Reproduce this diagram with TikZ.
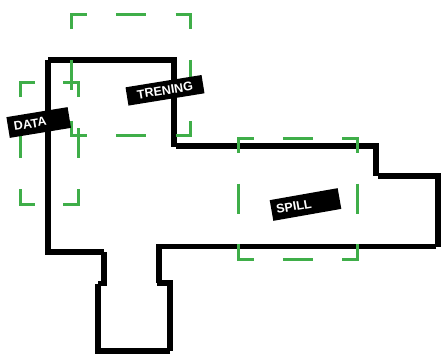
\documentclass[tikz,border=0pt]{standalone}
\usepackage{fontspec}
\setmainfont{Liberation Sans}
\definecolor{zonegreen}{HTML}{3FAE49}
\tikzset{
  wall/.style={draw=black,line width=5.8pt,line cap=square},
  zone/.style={draw=zonegreen,line width=3pt,line cap=butt},
  tag/.style={fill=black,text=white,inner sep=0pt,font=\bfseries\fontsize{12.5}{13}\selectfont,anchor=center},
}
\newcommand{\zonecorners}[4]{%
  \path[zone] ({#1},{#2+15}) -- ({#1},{#2}) -- ({#1+15},{#2});
  \path[zone] ({#3-15},{#2}) -- ({#3},{#2}) -- ({#3},{#2+15});
  \path[zone] ({#1},{#4-15}) -- ({#1},{#4}) -- ({#1+15},{#4});
  \path[zone] ({#3-15},{#4}) -- ({#3},{#4}) -- ({#3},{#4-15});
  \path[zone] ({#1},{(#2+#4)/2-15}) -- ({#1},{(#2+#4)/2+15});
  \path[zone] ({#3},{(#2+#4)/2-15}) -- ({#3},{(#2+#4)/2+15});
}
\newcommand{\zonemids}[4]{%
  \path[zone] ({(#1+#3)/2-15},{#2}) -- ({(#1+#3)/2+15},{#2});
  \path[zone] ({(#1+#3)/2-15},{#4}) -- ({(#1+#3)/2+15},{#4});
}
\begin{document}
\begin{tikzpicture}[x=1pt,y=-1pt]
\useasboundingbox (0,0) rectangle (443,360);
% outline
\path[wall] (48,60) -- (174,60) -- (174,146.5);
\path[wall] (176,146) -- (376,146) -- (376,176);
\path[wall] (378,176) -- (438,176) -- (438,247);
\path[wall] (436,246.5) -- (159,246.5) -- (159,283);
\path[wall] (157,283) -- (170,283) -- (170,351);
\path[wall] (170,351) -- (98,351) -- (98,284);
\path[wall] (98,283.5) -- (104,283.5) -- (104,252);
\path[wall] (104,252) -- (48,252) -- (48,60);
% zones
\zonecorners{71.5}{14}{190.5}{135.5}
\zonemids{71.5}{14}{190.5}{135.5}
\zonecorners{20}{82}{78}{204}
\zonecorners{238.5}{138}{357}{259}
\zonemids{238.5}{138}{357}{259}
% labels
\node[tag,minimum width=62pt,minimum height=21pt,rotate=9.3,text width=50pt,align=left] (data) at (38.7,122.5) {DATA};
\node[tag,minimum width=77pt,minimum height=18.5pt,rotate=9.2,align=center] (trening) at (165,90.3) {TRENING};
\node[tag,minimum width=69pt,minimum height=21pt,rotate=10,text width=59pt,align=left] (spill) at (305.5,204.5) {SPILL};
\end{tikzpicture}
\end{document}
